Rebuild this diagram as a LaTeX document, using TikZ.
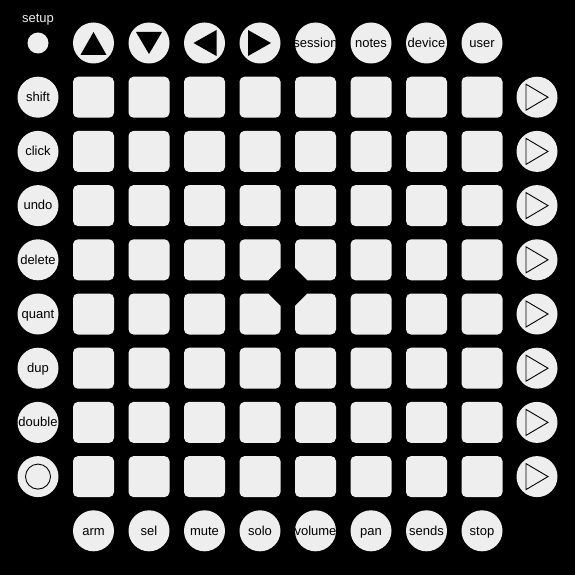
\documentclass[tikz,border=0pt]{standalone}
\usepackage{fontspec}
\setmainfont{Liberation Sans}
\definecolor{padgray}{HTML}{EEEEEE}
\tikzset{
  pad/.style={fill=padgray, rounded corners=5pt},
  cutpad/.style={fill=padgray},
  btn/.style={circle, fill=padgray, minimum size=41pt, inner sep=0pt},
  every label/.style={text height=9.5pt, text depth=1pt, inner sep=0pt},
}

\begin{document}
\begin{tikzpicture}[x=1pt,y=-1pt,font=\fontsize{13}{13}\selectfont]
\fill[black] (0,0) rectangle (575,575);
\useasboundingbox (0,0) rectangle (575,575);
% 8x8 pads, the middle four are drawn below
\foreach \c in {1,...,8}{
  \foreach \r in {1,...,8}{
    \pgfmathtruncatemacro\inmid{((\c==4)||(\c==5))&&((\r==4)||(\r==5))}
    \ifnum\inmid=0
      \fill[pad] (38+55.5*\c-20.5,43+54.2*\r-20.5) rectangle ++(41,41);
    \fi
  }
}
\fill[cutpad,shift={(260,259.8)}] (-20.5,0) [rounded corners=5pt] -- (-20.5,-20.5) -- (20.5,-20.5) -- (20.5,0) [sharp corners] -- (20.5,8.2) -- (8.2,20.5) -- (0,20.5) [rounded corners=5pt] -- (-20.5,20.5) -- cycle;
\fill[cutpad,shift={(315.5,259.8)}] (0,-20.5) [rounded corners=5pt] -- (20.5,-20.5) -- (20.5,20.5) -- (0,20.5) [sharp corners] -- (-8.2,20.5) -- (-20.5,8.2) -- (-20.5,0) [rounded corners=5pt] -- (-20.5,-20.5) -- cycle;
\fill[cutpad,shift={(260,314)}] (0,20.5) [rounded corners=5pt] -- (-20.5,20.5) -- (-20.5,-20.5) -- (0,-20.5) [sharp corners] -- (8.2,-20.5) -- (20.5,-8.2) -- (20.5,0) [rounded corners=5pt] -- (20.5,20.5) -- cycle;
\fill[cutpad,shift={(315.5,314)}] (20.5,0) [rounded corners=5pt] -- (20.5,20.5) -- (-20.5,20.5) -- (-20.5,0) [sharp corners] -- (-20.5,-8.2) -- (-8.2,-20.5) -- (0,-20.5) [rounded corners=5pt] -- (20.5,-20.5) -- cycle;
% top row
\node[circle,fill=padgray,minimum size=21pt,inner sep=0pt] (setup) at (38,43) {};
\node[text=padgray,text height=9.5pt,text depth=1pt,inner sep=0pt] (setuplabel) at (38,18.5) {setup};
\node[btn] (up) at (93.5,43) {};
\node[btn] (down) at (149,43) {};
\node[btn] (left) at (204.5,43) {};
\node[btn] (right) at (260,43) {};
\fill[shift={(up.center)}] (0,-11) -- (13,12) -- (-13,12) -- cycle;
\fill[shift={(down.center)}] (-13,-11) -- (13,-11) -- (0,11) -- cycle;
\fill[shift={(left.center)}] (-11,0) -- (12,-13) -- (12,13) -- cycle;
\fill[shift={(right.center)}] (11,0) -- (-12,-13) -- (-12,13) -- cycle;
\foreach \t [count=\i from 5] in {session,notes,device,user}
  \node[btn,label=center:\t] (\t) at (38+55.5*\i,43) {};
% left column
\foreach \t [count=\j] in {shift,click,undo,delete,quant,dup,double}
  \node[btn,label=center:\t] (\t) at (38,43+54.2*\j) {};
\node[btn] (rec) at (38,476.6) {};
\draw[line width=0.9pt] (rec.center) circle (12.5);
% right column
\foreach \j in {1,...,8}{
  \node[btn] (scene\j) at (537,43+54.2*\j) {};
  \draw[line width=0.9pt,shift={(scene\j.center)}] (-11,-13) -- (11,0) -- (-11,13) -- cycle;
}
% bottom row
\foreach \t [count=\i] in {arm,sel,mute,solo,volume,pan,sends,stop}
  \node[btn,label=center:\t] (\t) at (38+55.5*\i,530.8) {};
\end{tikzpicture}
\end{document}
